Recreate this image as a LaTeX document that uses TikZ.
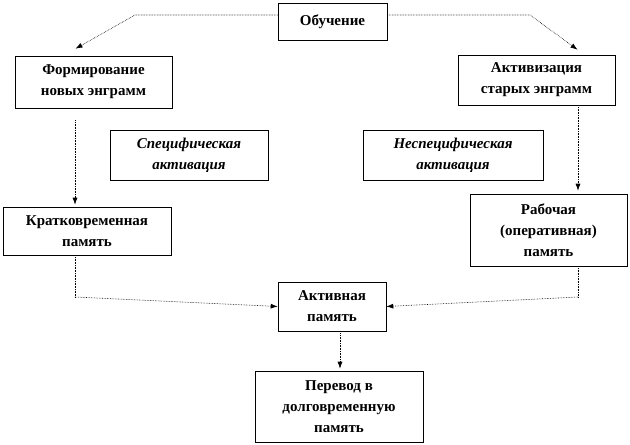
\documentclass[tikz,border=0pt]{standalone}
\usepackage{fontspec}
\setmainfont{Liberation Serif}
\usepackage{tikz}
\usetikzlibrary{
  calc,
  positioning,
  arrows.meta
}
\tikzset{>={Latex[length=7pt,width=5pt]}}

\begin{document}
\begin{tikzpicture}[x=1pt, y=-1pt,
    custom/.style = {rectangle, draw, line width=0.6pt, align=center, inner sep=2pt, font=\fontsize{15}{21}\selectfont\bfseries},
    spec/.style = {custom, font=\fontsize{15}{21}\selectfont\bfseries\itshape},
    conn/.style = {densely dotted, line width=0.6pt, ->}]
          \useasboundingbox (0,0) rectangle (630,445);
          % nodes
          \node[custom, minimum width=109pt, minimum height=37pt] (learn) at (332.5,21.5) {Обучение};
          \node[custom, minimum width=157pt, minimum height=52pt] (form) at (93.5,82) {Формирование\\новых энграмм};
          \node[custom, minimum width=157pt, minimum height=50pt] (activ) at (536.5,80) {Активизация\\старых энграмм};
          \node[spec, minimum width=158pt, minimum height=50pt] (specact) at (189,155) {Специфическая\\активация};
          \node[spec, minimum width=180pt, minimum height=50pt] (nonspec) at (453,155) {Неспецифическая\\активация};
          \node[custom, minimum width=168pt, minimum height=48pt] (short) at (87,231) {Кратковременная\\память};
          \node[custom, minimum width=157pt, minimum height=72pt] (work) at (548.5,230) {Рабочая\\(оперативная)\\память};
          \node[custom, minimum width=108pt, minimum height=49pt] (active) at (332,306.5) {Активная\\память};
          \node[custom, minimum width=168pt, minimum height=71pt] (long) at (339,406.5) {Перевод в\\долговременную\\память};

          \coordinate (lbend) at (135,15);
          \coordinate (rbend) at (530,15);
          \coordinate (lcol) at (75,0);
          \coordinate (rcol) at (578,0);
          \coordinate (mcol) at (340,0);
          \coordinate (lknee) at (75,297);
          \coordinate (rknee) at (578,297);

          % connections
          \draw[conn] ([yshift=6.5pt]learn.west) -- (lbend) -- ([xshift=-18pt,yshift=7pt]form.north);
          \draw[conn] ([yshift=6.5pt]learn.east) -- (rbend) -- ([xshift=41pt,yshift=5pt]activ.north);
          \draw[conn, shorten <=12pt, shorten >=2pt] (form.south -| lcol) -- (short.north -| lcol);
          \draw[conn, shorten >=3pt] (activ.south -| rcol) -- (work.north -| rcol);
          \draw[conn, -] (short.south -| lcol) -- (lknee);
          \draw[conn] (lknee) -- (active.west);
          \draw[conn, -] (work.south -| rcol) -- (rknee);
          \draw[conn] (rknee) -- (active.east);
          \draw[conn, shorten <=2pt, shorten >=2pt] (active.south -| mcol) -- (long.north -| mcol);
        \end{tikzpicture}
\end{document}
